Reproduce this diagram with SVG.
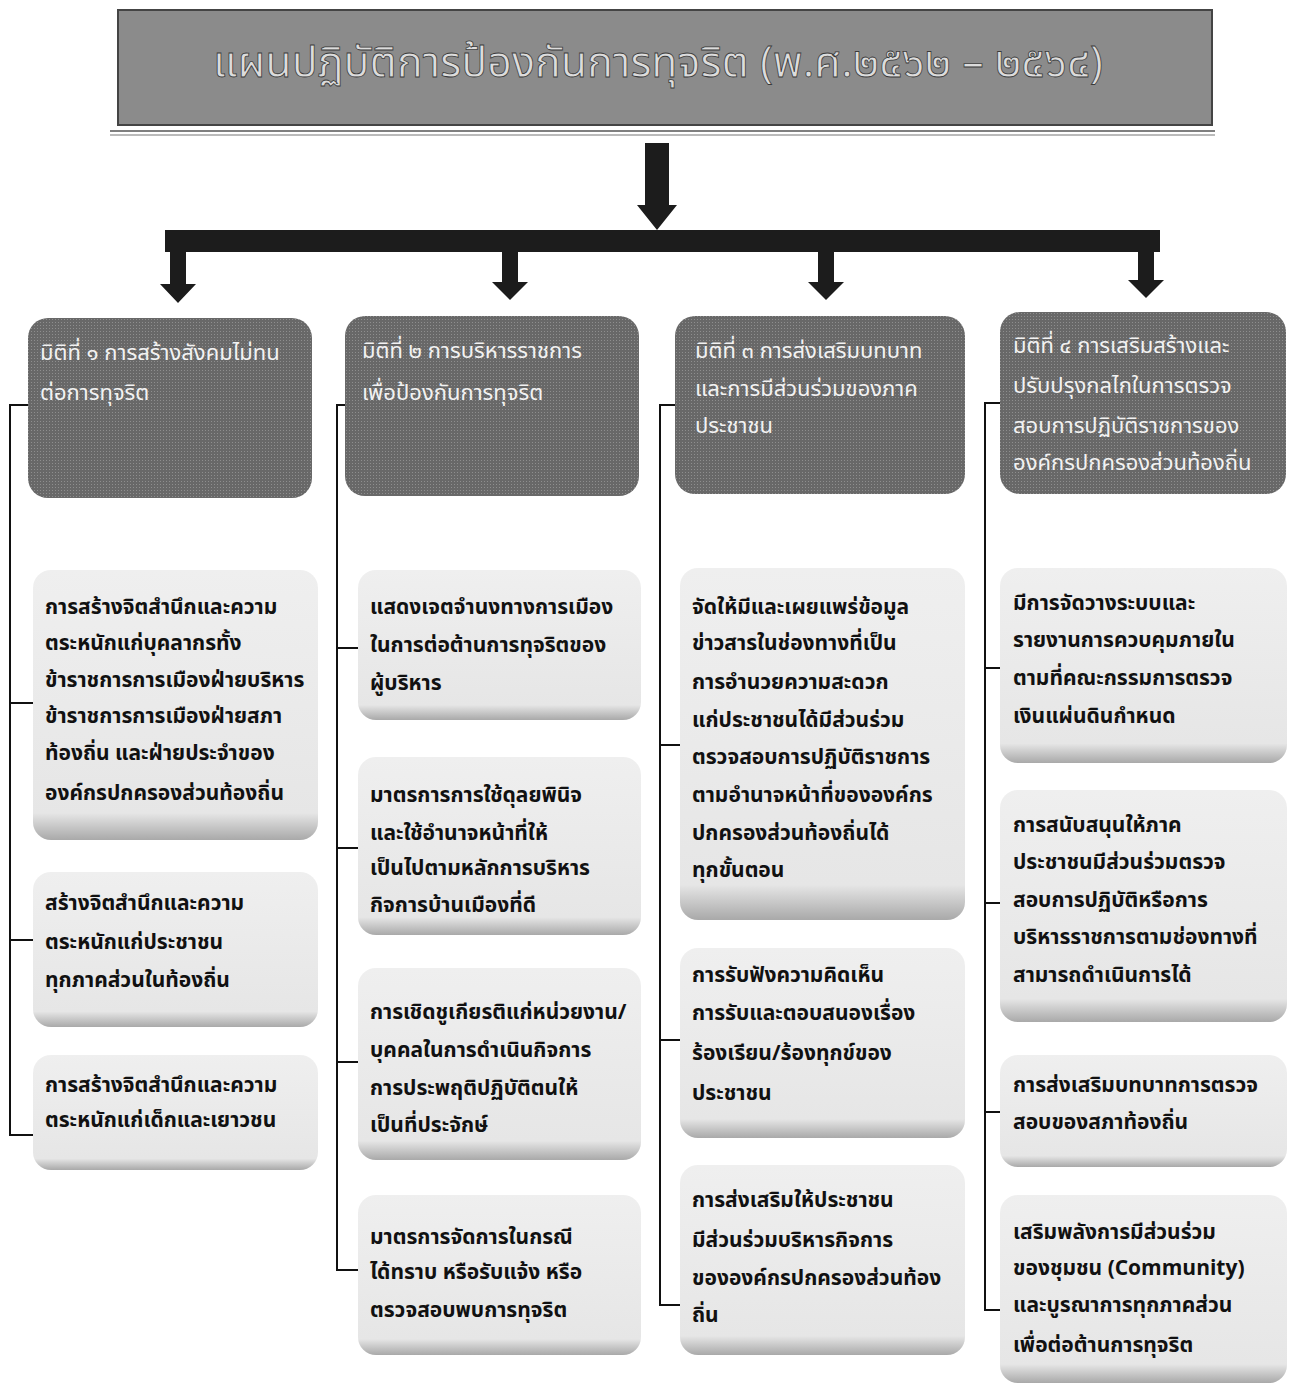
<svg xmlns="http://www.w3.org/2000/svg" width="1302" height="1390" viewBox="0 0 1302 1390">
<defs>
<linearGradient id="lg" x1="0" y1="0" x2="0" y2="1">
<stop offset="0" stop-color="#efefef"/>
<stop offset="0.9" stop-color="#e6e6e6"/>
<stop offset="1" stop-color="#a9a9a9"/>
</linearGradient>
<pattern id="dark" width="3" height="3" patternUnits="userSpaceOnUse">
<rect width="3" height="3" fill="#686868"/>
<rect x="1" y="1" width="1" height="1" fill="#8e8e8e"/>
</pattern>
</defs>
<style>
.lb{fill:url(#lg);}
.hb{fill:url(#dark);}
.t{font-family:"Noto Sans Thai","Noto Sans","DejaVu Sans",sans-serif;font-size:21px;font-weight:bold;fill:#111;}
.h{font-family:"Noto Sans Thai","Noto Sans","DejaVu Sans",sans-serif;font-size:22px;fill:#f2f2f2;}
.ttl{font-family:"Noto Sans Thai","Noto Sans","DejaVu Sans",sans-serif;font-size:43px;fill:#dcdcdc;stroke:#3a3a3a;stroke-width:0.8;}
.ln{fill:none;stroke:#111;stroke-width:2;}
.ar{fill:#1c1c1c;}
</style>
<rect width="1302" height="1390" fill="#ffffff"/>
<g id="title">
<rect x="118" y="10" width="1094" height="115" fill="#8b8b8b" stroke="#444" stroke-width="2"/>
<line x1="110" y1="131" x2="1215" y2="131" stroke="#555" stroke-width="1.5"/>
<line x1="110" y1="135" x2="1215" y2="135" stroke="#777" stroke-width="1"/>
<text class="ttl" x="658" y="77" text-anchor="middle">แผนปฏิบัติการป้องกันการทุจริต  (พ.ศ.๒๕๖๒ – ๒๕๖๔)</text>
</g>
<g id="connectors">
<polygon class="ar" points="645,143 669,143 669,205 677,205 657,230 637,205 645,205"/>
<rect class="ar" x="165" y="230" width="995" height="22"/>
<polygon class="ar" points="170,252 186,252 186,284 196,284 178,303 160,284 170,284"/>
<polygon class="ar" points="502,252 518,252 518,282 528,282 510,300 492,282 502,282"/>
<polygon class="ar" points="818,252 834,252 834,282 844,282 826,300 808,282 818,282"/>
<polygon class="ar" points="1138,252 1154,252 1154,280 1164,280 1146,298 1128,280 1138,280"/>
<path class="ln" d="M28,405 H10 V1135 H33 M10,703 H35 M10,940 H35"/>
<path class="ln" d="M345,405 H337 V1270 H358 M337,648 H358 M337,848 H358 M337,1062 H358"/>
<path class="ln" d="M675,405 H660 V1305 H680 M660,745 H680 M660,1040 H680"/>
<path class="ln" d="M1000,403 H985 V1310 H1000 M985,668 H1000 M985,903 H1000 M985,1112 H1000"/>
</g>
<g id="dim1">
<rect class="hb" x="28" y="318" width="284" height="180" rx="20"/>
<text class="h" x="40" y="360">มิติที่ ๑ การสร้างสังคมไม่ทน</text>
<text class="h" x="40" y="400">ต่อการทุจริต</text>
</g>
<g id="dim2">
<rect class="hb" x="345" y="316" width="294" height="180" rx="20"/>
<text class="h" x="362" y="358">มิติที่ ๒ การบริหารราชการ</text>
<text class="h" x="362" y="400">เพื่อป้องกันการทุจริต</text>
</g>
<g id="dim3">
<rect class="hb" x="675" y="316" width="290" height="178" rx="20"/>
<text class="h" x="695" y="358">มิติที่ ๓ การส่งเสริมบทบาท</text>
<text class="h" x="695" y="396">และการมีส่วนร่วมของภาค</text>
<text class="h" x="695" y="433">ประชาชน</text>
</g>
<g id="dim4">
<rect class="hb" x="1000" y="312" width="286" height="182" rx="20"/>
<text class="h" x="1013" y="353">มิติที่ ๔ การเสริมสร้างและ</text>
<text class="h" x="1013" y="393">ปรับปรุงกลไกในการตรวจ</text>
<text class="h" x="1013" y="433">สอบการปฏิบัติราชการของ</text>
<text class="h" x="1013" y="470">องค์กรปกครองส่วนท้องถิ่น</text>
</g>
<g id="n1a">
<rect class="lb" x="33" y="570" width="285" height="270" rx="18"/>
<text class="t" x="45" y="614">การสร้างจิตสำนึกและความ</text>
<text class="t" x="45" y="650">ตระหนักแก่บุคลากรทั้ง</text>
<text class="t" x="45" y="687">ข้าราชการการเมืองฝ่ายบริหาร</text>
<text class="t" x="45" y="723">ข้าราชการการเมืองฝ่ายสภา</text>
<text class="t" x="45" y="760">ท้องถิ่น และฝ่ายประจำของ</text>
<text class="t" x="45" y="800">องค์กรปกครองส่วนท้องถิ่น</text>
</g>
<g id="n1b">
<rect class="lb" x="33" y="872" width="285" height="155" rx="18"/>
<text class="t" x="45" y="910">สร้างจิตสำนึกและความ</text>
<text class="t" x="45" y="949">ตระหนักแก่ประชาชน</text>
<text class="t" x="45" y="987">ทุกภาคส่วนในท้องถิ่น</text>
</g>
<g id="n1c">
<rect class="lb" x="33" y="1055" width="285" height="115" rx="18"/>
<text class="t" x="45" y="1092">การสร้างจิตสำนึกและความ</text>
<text class="t" x="45" y="1127">ตระหนักแก่เด็กและเยาวชน</text>
</g>
<g id="n2a">
<rect class="lb" x="358" y="570" width="283" height="150" rx="18"/>
<text class="t" x="370" y="614">แสดงเจตจำนงทางการเมือง</text>
<text class="t" x="370" y="652">ในการต่อต้านการทุจริตของ</text>
<text class="t" x="370" y="690">ผู้บริหาร</text>
</g>
<g id="n2b">
<rect class="lb" x="358" y="757" width="283" height="178" rx="18"/>
<text class="t" x="370" y="802">มาตรการการใช้ดุลยพินิจ</text>
<text class="t" x="370" y="840">และใช้อำนาจหน้าที่ให้</text>
<text class="t" x="370" y="875">เป็นไปตามหลักการบริหาร</text>
<text class="t" x="370" y="912">กิจการบ้านเมืองที่ดี</text>
</g>
<g id="n2c">
<rect class="lb" x="358" y="968" width="283" height="192" rx="18"/>
<text class="t" x="370" y="1019">การเชิดชูเกียรติแก่หน่วยงาน/</text>
<text class="t" x="370" y="1057">บุคคลในการดำเนินกิจการ</text>
<text class="t" x="370" y="1095">การประพฤติปฏิบัติตนให้</text>
<text class="t" x="370" y="1132">เป็นที่ประจักษ์</text>
</g>
<g id="n2d">
<rect class="lb" x="358" y="1195" width="283" height="160" rx="18"/>
<text class="t" x="370" y="1244">มาตรการจัดการในกรณี</text>
<text class="t" x="370" y="1279">ได้ทราบ หรือรับแจ้ง หรือ</text>
<text class="t" x="370" y="1317">ตรวจสอบพบการทุจริต</text>
</g>
<g id="n3a">
<rect class="lb" x="680" y="568" width="285" height="352" rx="18"/>
<text class="t" x="692" y="614">จัดให้มีและเผยแพร่ข้อมูล</text>
<text class="t" x="692" y="650">ข่าวสารในช่องทางที่เป็น</text>
<text class="t" x="692" y="689">การอำนวยความสะดวก</text>
<text class="t" x="692" y="727">แก่ประชาชนได้มีส่วนร่วม</text>
<text class="t" x="692" y="764">ตรวจสอบการปฏิบัติราชการ</text>
<text class="t" x="692" y="802">ตามอำนาจหน้าที่ขององค์กร</text>
<text class="t" x="692" y="840">ปกครองส่วนท้องถิ่นได้</text>
<text class="t" x="692" y="877">ทุกขั้นตอน</text>
</g>
<g id="n3b">
<rect class="lb" x="680" y="948" width="285" height="190" rx="18"/>
<text class="t" x="692" y="982">การรับฟังความคิดเห็น</text>
<text class="t" x="692" y="1020">การรับและตอบสนองเรื่อง</text>
<text class="t" x="692" y="1060">ร้องเรียน/ร้องทุกข์ของ</text>
<text class="t" x="692" y="1100">ประชาชน</text>
</g>
<g id="n3c">
<rect class="lb" x="680" y="1165" width="285" height="190" rx="18"/>
<text class="t" x="692" y="1207">การส่งเสริมให้ประชาชน</text>
<text class="t" x="692" y="1247">มีส่วนร่วมบริหารกิจการ</text>
<text class="t" x="692" y="1285">ขององค์กรปกครองส่วนท้อง</text>
<text class="t" x="692" y="1322">ถิ่น</text>
</g>
<g id="n4a">
<rect class="lb" x="1000" y="568" width="287" height="195" rx="18"/>
<text class="t" x="1013" y="610">มีการจัดวางระบบและ</text>
<text class="t" x="1013" y="647">รายงานการควบคุมภายใน</text>
<text class="t" x="1013" y="685">ตามที่คณะกรรมการตรวจ</text>
<text class="t" x="1013" y="723">เงินแผ่นดินกำหนด</text>
</g>
<g id="n4b">
<rect class="lb" x="1000" y="790" width="287" height="232" rx="18"/>
<text class="t" x="1013" y="832">การสนับสนุนให้ภาค</text>
<text class="t" x="1013" y="869">ประชาชนมีส่วนร่วมตรวจ</text>
<text class="t" x="1013" y="907">สอบการปฏิบัติหรือการ</text>
<text class="t" x="1013" y="944">บริหารราชการตามช่องทางที่</text>
<text class="t" x="1013" y="982">สามารถดำเนินการได้</text>
</g>
<g id="n4c">
<rect class="lb" x="1000" y="1055" width="287" height="112" rx="18"/>
<text class="t" x="1013" y="1092">การส่งเสริมบทบาทการตรวจ</text>
<text class="t" x="1013" y="1129">สอบของสภาท้องถิ่น</text>
</g>
<g id="n4d">
<rect class="lb" x="1000" y="1195" width="287" height="188" rx="18"/>
<text class="t" x="1013" y="1239">เสริมพลังการมีส่วนร่วม</text>
<text class="t" x="1013" y="1275">ของชุมชน (Community)</text>
<text class="t" x="1013" y="1312">และบูรณาการทุกภาคส่วน</text>
<text class="t" x="1013" y="1352">เพื่อต่อต้านการทุจริต</text>
</g>
</svg>
